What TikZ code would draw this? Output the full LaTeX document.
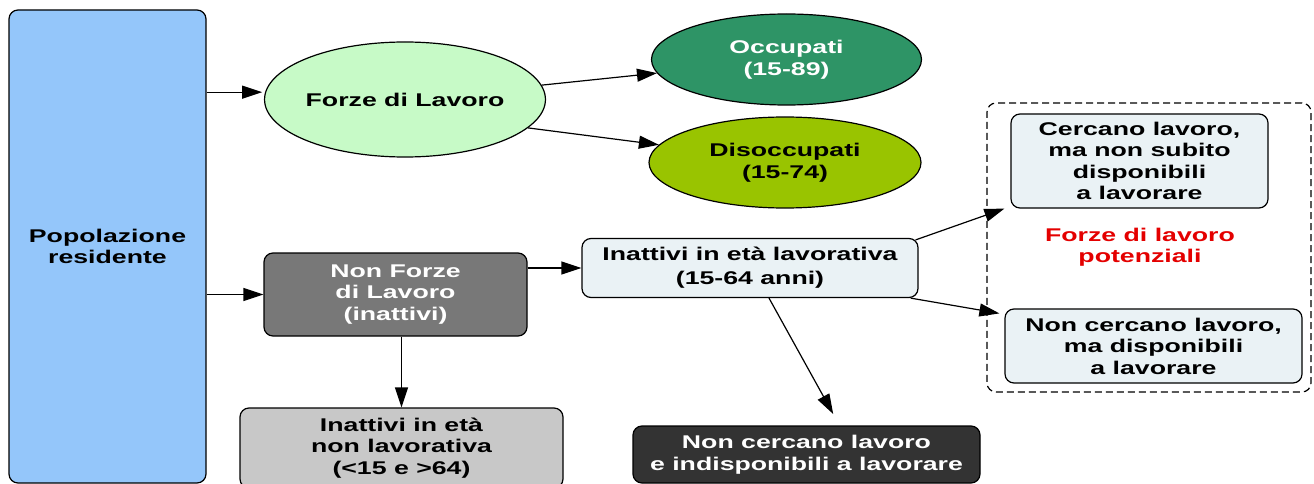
\documentclass[tikz,border=0pt]{standalone}
\usepackage{fontspec}
\setmainfont{Liberation Sans}[FakeStretch=1.45]
\usetikzlibrary{shapes.geometric,arrows.meta,calc}
\definecolor{popblue}{RGB}{148,198,250}
\definecolor{forzegreen}{RGB}{199,250,199}
\definecolor{occgreen}{RGB}{46,148,102}
\definecolor{disgreen}{RGB}{153,196,0}
\definecolor{nfgray}{RGB}{120,120,120}
\definecolor{lightbox}{RGB}{234,242,245}
\definecolor{lgray}{RGB}{200,200,200}
\definecolor{darkbox}{RGB}{51,51,51}
\definecolor{potred}{RGB}{228,0,0}
\tikzset{
  lbl/.style={font=\fontsize{18.4}{21.5}\selectfont\bfseries, align=center, inner sep=0pt},
  rbox/.style={lbl, draw=black, line width=1.2pt, rounded corners=9pt},
  ell/.style={lbl, draw=black, line width=1.2pt, ellipse},
  arr/.style={line width=1.2pt, -{Triangle[length=20pt,width=13pt]}},
  dashbox/.style={draw=black, line width=1.2pt, dash pattern=on 7pt off 4pt, rounded corners=9pt, inner sep=0pt},
}
\begin{document}
\begin{tikzpicture}[x=1pt,y=-1pt]
\useasboundingbox (0,0) rectangle (1314,484);
\fill[white] (0,0) rectangle (1314,484);

\node[rbox, fill=popblue, minimum width=197pt, minimum height=473pt] (pop) at (107.5,246.5) {Popolazione\\residente};
\node[ell, fill=forzegreen, minimum width=280pt, minimum height=115pt] (forze) at (405,99.5) {Forze di Lavoro};
\node[ell, fill=occgreen, text=white, minimum width=270pt, minimum height=91pt] (occ) at (786.5,59.5) {Occupati\\(15-89)};
\node[ell, fill=disgreen, minimum width=272pt, minimum height=91pt] (dis) at (785,162.5) {Disoccupati\\(15-74)};
\node[rbox, fill=nfgray, text=white, minimum width=263pt, minimum height=83pt] (nonforze) at (395.5,294.5) {Non Forze\\di Lavoro\\(inattivi)};
\node[rbox, fill=lightbox, minimum width=336pt, minimum height=59pt, font=\fontsize{18.4}{24}\selectfont\bfseries] (inlav) at (750,268) {Inattivi in età lavorativa\\(15-64 anni)};
\node[rbox, fill=lgray, minimum width=323pt, minimum height=80pt] (ingray) at (401.5,448) {Inattivi in età\\non lavorativa\\(<15 e >64)};
\node[rbox, fill=darkbox, text=white, minimum width=347pt, minimum height=57pt] (dark) at (806.5,454.5) {Non cercano lavoro\\e indisponibili a lavorare};
\node[dashbox, minimum width=324pt, minimum height=289pt] (pot) at (1149,247.5) {};
\node[rbox, fill=lightbox, minimum width=257pt, minimum height=94pt] (cerc) at (1139.5,161) {Cercano lavoro,\\ma non subito\\disponibili\\a lavorare};
\node[lbl, text=potred] (potlbl) at (1140,247) {Forze di lavoro\\potenziali};
\node[rbox, fill=lightbox, minimum width=297pt, minimum height=74pt] (noncerc) at (1153.5,346) {Non cercano lavoro,\\ma disponibili\\a lavorare};

\draw[arr, shorten >=3pt] (pop.east |- forze.177) -- (forze.177);
\draw[arr] (pop.east |- nonforze.west) -- (nonforze.west);
\draw[arr] (forze.6) -- (occ.186);
\draw[arr] (forze.347) -- (dis.172);
\draw[arr] (nonforze.east |- inlav.west) -- (inlav.west);
\draw[arr] (ingray.north |- nonforze.south) -- (ingray.north);
\draw[arr, shorten >=13pt] ($(inlav.south)+(19,0)$) -- ($(dark.north)+(33,0)$);
\draw[arr] ($(inlav.north east)+(-3,2)$) -- ($(cerc.south west)+(-6,0)$);
\draw[arr] ($(inlav.south east)+(-8,0)$) -- ($(noncerc.north west)+(-5,5)$);
\end{tikzpicture}
\end{document}
